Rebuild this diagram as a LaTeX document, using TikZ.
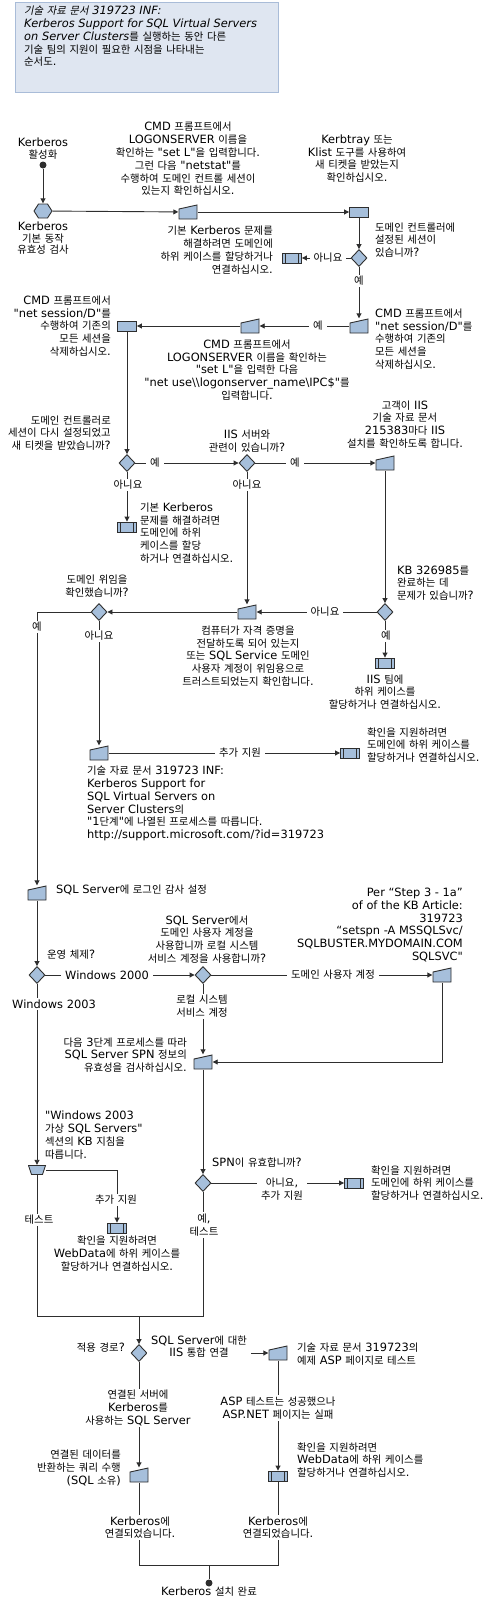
\documentclass[tikz,border=0pt]{standalone}
\usepackage{fontspec}
\setmainfont{DejaVu Sans}[Ligatures=TeXOff]
\newfontfamily\latfont{DejaVu Sans}[Ligatures=TeXOff]
\newfontfamily\krfont{Noto Sans CJK KR}[Scale=0.91]
\newfontfamily\krfontsl{Noto Sans CJK KR}[Scale=0.91,FakeSlant=0.2]
\def\krsw{\krfont}
\def\latsw{\latfont}
\XeTeXinterchartokenstate=1
\chardef\hangulclass=10
\newcount\hgc
\hgc="AC00
\loop
  \XeTeXcharclass\hgc=\hangulclass
  \ifnum\hgc<"D7A3
  \advance\hgc by 1
\repeat
\XeTeXinterchartoks 0 \hangulclass = {\krsw}
\XeTeXinterchartoks 1 \hangulclass = {\krsw}
\XeTeXinterchartoks 2 \hangulclass = {\krsw}
\XeTeXinterchartoks 3 \hangulclass = {\krsw}
\XeTeXinterchartoks 4095 \hangulclass = {\krsw}
\XeTeXinterchartoks \hangulclass 0 = {\latsw}
\XeTeXinterchartoks \hangulclass 1 = {\latsw}
\XeTeXinterchartoks \hangulclass 2 = {\latsw}
\XeTeXinterchartoks \hangulclass 3 = {\latsw}
\XeTeXinterchartoks \hangulclass 4095 = {\latsw}
\usetikzlibrary{shapes.geometric,arrows.meta}
\definecolor{lineC}{HTML}{2E2E2E}
\definecolor{shapeC}{HTML}{A6BFDB}
\definecolor{titleF}{HTML}{DFE6F1}
\definecolor{titleD}{HTML}{A9BCD8}
\tikzset{
  txt/.style={font=\fontsize{11.4}{12.8}\selectfont, inner sep=1pt, text=black},
  onl/.style={txt, fill=white, inner xsep=4pt, inner ysep=1.5pt},
  base/.style={draw=lineC, fill=shapeC, line width=0.9pt, inner sep=0pt},
  procbox/.style={base, rectangle, minimum width=19pt, minimum height=10pt},
  predef/.style={procbox, path picture={
    \draw[draw=lineC, line width=0.9pt]
      ([xshift=3pt]path picture bounding box.north west) -- ([xshift=3pt]path picture bounding box.south west)
      ([xshift=-3pt]path picture bounding box.north east) -- ([xshift=-3pt]path picture bounding box.south east);}},
  diam/.style={base, diamond, minimum width=16pt, minimum height=17pt},
  polynode/.style={rectangle, inner sep=0pt, draw=none, fill=white},
  manin/.style={polynode, minimum width=19pt, minimum height=15pt, path picture={
    \filldraw[fill=shapeC, draw=lineC, line width=0.9pt]
      ([shift={(0.5pt,-4.5pt)}]path picture bounding box.north west) --
      ([shift={(-0.5pt,-0.5pt)}]path picture bounding box.north east) --
      ([shift={(-0.5pt,0.5pt)}]path picture bounding box.south east) --
      ([shift={(0.5pt,0.5pt)}]path picture bounding box.south west) -- cycle;}},
  manop/.style={polynode, minimum width=18pt, minimum height=10pt, path picture={
    \filldraw[fill=shapeC, draw=lineC, line width=0.9pt]
      ([shift={(0.5pt,-0.5pt)}]path picture bounding box.north west) --
      ([shift={(-0.5pt,-0.5pt)}]path picture bounding box.north east) --
      ([shift={(-3.5pt,0.5pt)}]path picture bounding box.south east) --
      ([shift={(3.5pt,0.5pt)}]path picture bounding box.south west) -- cycle;}},
  hexa/.style={polynode, minimum width=19pt, minimum height=15pt, path picture={
    \filldraw[fill=shapeC, draw=lineC, line width=0.9pt]
      ([xshift=0.5pt]path picture bounding box.west) --
      ([shift={(5pt,-0.5pt)}]path picture bounding box.north west) --
      ([shift={(-5pt,-0.5pt)}]path picture bounding box.north east) --
      ([xshift=-0.5pt]path picture bounding box.east) --
      ([shift={(-5pt,0.5pt)}]path picture bounding box.south east) --
      ([shift={(5pt,0.5pt)}]path picture bounding box.south west) -- cycle;}},
  dot/.style={circle, fill=lineC, minimum size=7pt, inner sep=0pt},
  titlebox/.style={rectangle, fill=titleF, draw=titleD, line width=1pt, inner sep=0pt},
  ln/.style={draw=lineC, line width=0.9pt},
  arr/.style={ln, -{Triangle[length=5pt,width=5pt]}},
}
\begin{document}
\begin{tikzpicture}[x=1pt,y=-1pt]
\useasboundingbox (0,0) rectangle (490,1598);
% title
\node[titlebox, anchor=north west, minimum width=263pt, minimum height=90pt] (title) at (15,2) {};
\node[txt, anchor=north west, align=left] (titletext) at (23,5) {%
{\def\krsw{\krfontsl}\def\latsw{\latfont\itshape}\itshape 기술 자료 문서 319723 INF:}\\
{\itshape Kerberos Support for SQL Virtual Servers}\\
{\def\latsw{\latfont\itshape}\itshape on Server Clusters}를 실행하는 동안 다른\\
기술 팀의 지원이 필요한 시점을 나타내는\\
순서도.};
% shapes
\node[dot] (start) at (43,165) {};
\node[hexa] (hex) at (43,211) {};
\node[manin] (t1) at (188,212) {};
\node[procbox] (r1) at (359,212) {};
\node[diam] (d1) at (359,258) {};
\node[predef] (p1) at (292,258) {};
\node[manin] (t2) at (359,326) {};
\node[manin] (t3) at (250,326) {};
\node[procbox] (r2) at (127,326) {};
\node[diam] (d2) at (127,463) {};
\node[predef] (p2) at (127,527) {};
\node[diam] (d3) at (247,463) {};
\node[manin] (t4) at (385,463) {};
\node[diam] (d4) at (385,612) {};
\node[predef] (p3) at (385,663) {};
\node[manin] (t5) at (247,612) {};
\node[diam] (d5) at (99,612) {};
\node[manin] (t6) at (99,753) {};
\node[predef] (p4) at (350,753) {};
\node[manin] (t7) at (37,893) {};
\node[diam] (d6) at (37,975) {};
\node[diam] (d7) at (203,975) {};
\node[manin] (t8) at (442,975) {};
\node[manin] (t9) at (203,1062) {};
\node[manop] (m1) at (37,1170) {};
\node[predef] (p5) at (117,1228) {};
\node[diam] (d8) at (203,1183) {};
\node[predef] (p6) at (354,1183) {};
\coordinate (jl) at (37,1316);
\coordinate (jr) at (203,1316);
\coordinate (jm) at (139,1316);
\node[diam] (d9) at (139,1353) {};
\node[manin] (t10) at (278,1353) {};
\node[manin] (t11) at (139,1475) {};
\node[predef] (p7) at (278,1476) {};
\coordinate (bl) at (139,1565);
\coordinate (br) at (278,1565);
\coordinate (bm) at (209,1565);
\node[dot] (end) at (209,1583) {};
% connectors
\draw[arr] (start) -- (hex);
\draw[arr] (hex) -- (t1);
\draw[arr] (t1) -- (r1);
\draw[arr] (r1) -- (d1);
\draw[arr] (d1) -- (p1);
\draw[arr] (d1) -- (t2);
\draw[arr] (t2) -- (t3);
\draw[arr] (t3) -- (r2);
\draw[arr] (r2) -- (d2);
\draw[arr] (d2) -- (d3);
\draw[arr] (d2) -- (p2);
\draw[arr] (d3) -- (t4);
\draw[arr] (d3) -- (t5);
\draw[arr] (t4) -- (d4);
\draw[arr] (d4) -- (t5);
\draw[arr] (d4) -- (p3);
\draw[arr] (t5) -- (d5);
\draw[arr] (d5.west) -| (t7.north);
\draw[arr] (d5) -- (t6);
\draw[arr] (t6) -- (p4);
\draw[arr] (t7) -- (d6);
\draw[arr] (d6) -- (d7);
\draw[arr] (d7) -- (t8);
\draw[arr] (d7) -- (t9);
\draw[arr] (t8.south) |- (t9.east);
\draw[arr] (d6) -- (m1);
\draw[arr] (m1.east) -| (p5.north);
\draw[arr] (t9) -- (d8);
\draw[arr] (d8) -- (p6);
\draw[ln] (m1.south) -- (jl) -- (jr) -- (d8.south);
\draw[arr] (jm) -- (d9);
\draw[arr] (d9) -- (t10);
\draw[arr] (d9) -- (t11);
\draw[arr] (t10) -- (p7);
\draw[ln] (t11.south) -- (bl) -- (br) -- (p7.south);
\draw[ln] (bm) -- (end);
% texts
\node[txt, align=center] (labstart) at (43,148.5) {Kerberos\\활성화};
\node[txt, align=center, anchor=north, font=\fontsize{11.4}{11.5}\selectfont] (labhex) at (43,221) {Kerberos\\기본 동작\\유효성 검사};
\node[txt, align=center] (labt1) at (188,159) {CMD 프롬프트에서\\LOGONSERVER 이름을\\확인하는 "set L"을 입력합니다.\\그런 다음 "netstat"를\\수행하여 도메인 컨트롤 세션이\\있는지 확인하십시오.};
\node[txt, align=center] (labr1) at (357,158.5) {Kerbtray 또는\\Klist 도구를 사용하여\\새 티켓을 받았는지\\확인하십시오.};
\node[txt, align=right, anchor=east] (labp1) at (274,250) {기본 Kerberos 문제를\\해결하려면 도메인에\\하위 케이스를 할당하거나\\연결하십시오.};
\node[txt, align=left, anchor=west] (labd1) at (374,240) {도메인 컨트롤러에\\설정된 세션이\\있습니까?};
\node[onl] (no1) at (328,258) {아니요};
\node[onl] (yes1) at (359,281) {예};
\node[txt, align=left, anchor=west] (labt2) at (374,339) {CMD 프롬프트에서\\"net session/D"를\\수행하여 기존의\\모든 세션을\\삭제하십시오.};
\node[onl] (yes2) at (318,326) {예};
\node[txt, align=center] (labt3) at (247,370) {CMD 프롬프트에서\\LOGONSERVER 이름을 확인하는\\"set L"을 입력한 다음\\"net use\textbackslash\textbackslash logonserver\_name\textbackslash IPC\$"를\\입력합니다.};
\node[txt, align=right, anchor=east] (labr2) at (112,326) {CMD 프롬프트에서\\"net session/D"를\\수행하여 기존의\\모든 세션을\\삭제하십시오.};
\node[txt, align=right, anchor=east] (labd2) at (112,433) {도메인 컨트롤러로\\세션이 다시 설정되었고\\새 티켓을 받았습니까?};
\node[onl] (yes3) at (155,463) {예};
\node[onl] (no2) at (128,485) {아니요};
\node[txt, align=left, anchor=west] (labp2) at (139,533) {기본 Kerberos\\문제를 해결하려면\\도메인에 하위\\케이스를 할당\\하거나 연결하십시오.};
\node[txt, align=center] (labd3) at (247,441.5) {IIS 서버와\\관련이 있습니까?};
\node[onl] (yes4) at (295,463) {예};
\node[onl] (no3) at (247,485) {아니요};
\node[txt, align=center] (labt4) at (405,424.5) {고객이 IIS\\기술 자료 문서\\215383마다 IIS\\설치를 확인하도록 합니다.};
\node[txt, align=left, anchor=west] (labd4) at (396,583) {KB 326985를\\완료하는 데\\문제가 있습니까?};
\node[onl] (no4) at (325,612) {아니요};
\node[onl] (yes5) at (386,636) {예};
\node[txt, align=center] (labp3) at (385,692) {IIS 팀에\\하위 케이스를\\할당하거나 연결하십시오.};
\node[txt, align=center] (labt5) at (248,656) {컴퓨터가 자격 증명을\\전달하도록 되어 있는지\\또는 SQL Service 도메인\\사용자 계정이 위임용으로\\트러스트되었는지 확인합니다.};
\node[txt, align=center] (labd5) at (97,586) {도메인 위임을\\확인했습니까?};
\node[onl] (yes6) at (37,627) {예};
\node[onl] (no5) at (99,636) {아니요};
\node[onl] (add1) at (240,753) {추가 지원};
\node[txt, align=left, anchor=west] (labp4) at (366,745) {확인을 지원하려면\\도메인에 하위 케이스를\\할당하거나 연결하십시오.};
\node[txt, align=left, anchor=west] (labt6) at (86,803.5) {기술 자료 문서 319723 INF:\\Kerberos Support for\\SQL Virtual Servers on\\Server Clusters의\\"1단계"에 나열된 프로세스를 따릅니다.\\http://support.microsoft.com/?id=319723};
\node[txt, anchor=west] (labt7) at (55,890) {SQL Server에 로그인 감사 설정};
\node[txt, anchor=west] (labd6) at (46,955) {운영 체제?};
\node[onl] (w2000) at (107,975) {Windows 2000};
\node[txt, align=center] (labd7) at (207,939.5) {SQL Server에서\\도메인 사용자 계정을\\사용합니까 로컬 시스템\\서비스 계정을 사용합니까?};
\node[onl] (dua) at (333,975) {도메인 사용자 계정};
\node[txt, align=right, anchor=east] (labt8) at (464,925) {Per “Step 3 - 1a”\\of of the KB Article:\\319723\\“setspn -A MSSQLSvc/\\SQLBUSTER.MYDOMAIN.COM\\SQLSVC"};
\node[onl] (w2003) at (54,1004) {Windows 2003};
\node[onl, align=center] (lss) at (202,1006.5) {로컬 시스템\\서비스 계정};
\node[txt, align=right, anchor=east] (labt9) at (188,1055) {다음 3단계 프로세스를 따라\\SQL Server SPN 정보의\\유효성을 검사하십시오.};
\node[txt, align=left, anchor=west] (labm1) at (44,1135) {"Windows 2003\\가상 SQL Servers"\\섹션의 KB 지침을\\따릅니다.};
\node[onl] (add2) at (116,1200) {추가 지원};
\node[onl] (test1) at (39,1220) {테스트};
\node[txt, align=center, anchor=north] (labp5) at (117,1235) {확인을 지원하려면\\WebData에 하위 케이스를\\할당하거나 연결하십시오.};
\node[txt, anchor=west] (labd8) at (211,1163) {SPN이 유효합니까?};
\node[onl, align=center] (no6) at (282,1189) {아니요,\\추가 지원};
\node[txt, align=left, anchor=west] (labp6) at (370,1183) {확인을 지원하려면\\도메인에 하위 케이스를\\할당하거나 연결하십시오.};
\node[onl, align=center] (yes7) at (204,1225) {예,\\테스트};
\node[txt, anchor=east] (labd9) at (126,1348) {적용 경로?};
\node[onl, align=center] (iis) at (199,1346.5) {SQL Server에 대한\\IIS 통합 연결};
\node[txt, align=left, anchor=west] (labt10) at (296,1354.5) {기술 자료 문서 319723의\\예제 ASP 페이지로 테스트};
\node[onl, align=center] (linked) at (138,1408) {연결된 서버에\\Kerberos를\\사용하는 SQL Server};
\node[onl, align=center] (asp) at (278,1408) {ASP 테스트는 성공했으나\\ASP.NET 페이지는 실패};
\node[txt, align=right, anchor=east] (labt11) at (122,1468) {연결된 데이터를\\반환하는 쿼리 수행\\(SQL 소유)};
\node[txt, align=left, anchor=west] (labp7) at (296,1460) {확인을 지원하려면\\WebData에 하위 케이스를\\할당하거나 연결하십시오.};
\node[onl, align=center] (conn1) at (140,1527.5) {Kerberos에\\연결되었습니다.};
\node[onl, align=center] (conn2) at (278,1527.5) {Kerberos에\\연결되었습니다.};
\node[txt] (labend) at (209,1592) {Kerberos 설치 완료};
\end{tikzpicture}
\end{document}
